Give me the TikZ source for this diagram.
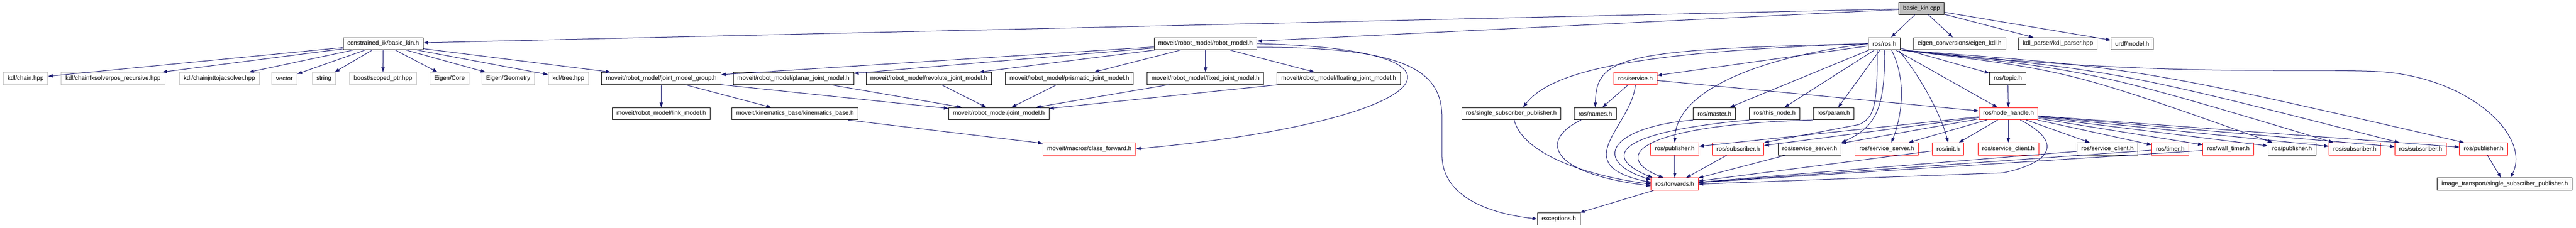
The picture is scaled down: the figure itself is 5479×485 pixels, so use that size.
\documentclass[tikz,border=0pt]{standalone}
\usepackage{fontspec}
\setmainfont{Liberation Sans}
\usetikzlibrary{arrows.meta}
\definecolor{edgeblue}{HTML}{191970}
\definecolor{extgray}{HTML}{BFBFBF}

\begin{document}
\begin{tikzpicture}[->,>={Stealth[inset=0pt,length=10pt,width=7pt]},x=1pt,y=-1pt,
    every edge/.style={draw=edgeblue,line width=1.1pt}]
  \tikzstyle{file}=[draw=black,fill=white,line width=1pt,minimum height=26pt,
                    inner xsep=9pt,inner ysep=0pt,font=\fontsize{13}{15}\selectfont]
  \tikzstyle{ext}=[file,draw=extgray]
  \tikzstyle{cut}=[file,draw=red]
  \tikzstyle{root}=[file,fill=extgray]
  \tikzstyle{dep}=[draw=edgeblue,line width=1.1pt]
  \useasboundingbox (0,0) rectangle (5479,485);

  % top
  \node [root] (cpp) at (4087,18) {basic\_kin.cpp};

  % row 1
  \node [file] (bkh)  at (815,93)  {constrained\_ik/basic\_kin.h};
  \node [file] (rm)   at (2564,93) {moveit/robot\_model/robot\_model.h};
  \node [file] (ros)  at (4008,93) {ros/ros.h};
  \node [file] (ekdl) at (4168,93) {eigen\_conversions/eigen\_kdl.h};
  \node [file] (kdlp) at (4377,93) {kdl\_parser/kdl\_parser.hpp};
  \node [file] (urdf) at (4535,93) {urdf/model.h};

  % row 2
  \node [ext]  (chain)    at (54.5,167)   {kdl/chain.hpp};
  \node [ext]  (fk)       at (240.5,167)  {kdl/chainfksolverpos\_recursive.hpp};
  \node [ext]  (jac)      at (466.5,167)  {kdl/chainjnttojacsolver.hpp};
  \node [ext]  (vec)      at (605,167)    {vector};
  \node [ext]  (str)      at (689,167)    {string};
  \node [ext]  (sptr)     at (814.5,167)  {boost/scoped\_ptr.hpp};
  \node [ext]  (ecore)    at (956,167)    {Eigen/Core};
  \node [ext]  (egeo)     at (1081,167)   {Eigen/Geometry};
  \node [ext]  (tree)     at (1209,167)   {kdl/tree.hpp};
  \node [file] (jmg)      at (1406.5,167) {moveit/robot\_model/joint\_model\_group.h};
  \node [file] (planar)   at (1687.5,167) {moveit/robot\_model/planar\_joint\_model.h};
  \node [file] (rev)      at (1975.5,167) {moveit/robot\_model/revolute\_joint\_model.h};
  \node [file] (pris)     at (2274.5,167) {moveit/robot\_model/prismatic\_joint\_model.h};
  \node [file] (fixed)    at (2564,167)   {moveit/robot\_model/fixed\_joint\_model.h};
  \node [file] (floating) at (2847.5,167) {moveit/robot\_model/floating\_joint\_model.h};
  \node [cut]  (srv)      at (3478.5,167) {ros/service.h};
  \node [file] (topic)    at (4270.5,167) {ros/topic.h};

  % row 3
  \node [file] (link)   at (1406.5,242) {moveit/robot\_model/link\_model.h};
  \node [file] (kb)     at (1691,242)   {moveit/kinematics\_base/kinematics\_base.h};
  \node [file] (jm)     at (2124.5,242) {moveit/robot\_model/joint\_model.h};
  \node [file] (ssp)    at (3214.5,242) {ros/single\_subscriber\_publisher.h};
  \node [file] (names)  at (3393,242)   {ros/names.h};
  \node [file] (master) at (3646.5,242) {ros/master.h};
  \node [file] (thisn)  at (3774.5,242) {ros/this\_node.h};
  \node [file] (param)  at (3900,242)   {ros/param.h};
  \node [cut]  (nh)     at (4272,242)   {ros/node\_handle.h};

  % row 4
  \node [cut]  (cf)     at (2317,317)   {moveit/macros/class\_forward.h};
  \node [cut]  (pubA)   at (3562,317)   {ros/publisher.h};
  \node [cut]  (subA)   at (3697,317)   {ros/subscriber.h};
  \node [file] (ssB)    at (3849,317)   {ros/service\_server.h};
  \node [cut]  (ssA)    at (4013,317)   {ros/service\_server.h};
  \node [cut]  (init)   at (4143.5,317) {ros/init.h};
  \node [cut]  (scA)    at (4271.5,317) {ros/service\_client.h};
  \node [file] (scB)    at (4482.5,317) {ros/service\_client.h};
  \node [cut]  (timer)  at (4616,317)   {ros/timer.h};
  \node [cut]  (wtimer) at (4739.5,317) {ros/wall\_timer.h};
  \node [file] (pubB)   at (4875,317)   {ros/publisher.h};
  \node [cut]  (subB)   at (5008.5,317) {ros/subscriber.h};
  \node [cut]  (subC)   at (5148.5,317) {ros/subscriber.h};
  \node [cut]  (pubC)   at (5282.5,317) {ros/publisher.h};

  % rows 5 and 6
  \node [cut]  (fwd)    at (3562,392)   {ros/forwards.h};
  \node [file] (itssp)  at (5327.5,392) {image\_transport/single\_subscriber\_publisher.h};
  \node [file] (exc)    at (3315.5,466) {exceptions.h};

  \path (cpp) edge (bkh)
              edge (rm)
              edge (ros)
              edge (ekdl)
              edge (kdlp)
              edge (urdf)
        (bkh) edge (chain)
              edge (fk)
              edge (jac)
              edge (vec)
              edge (str)
              edge (sptr)
              edge (ecore)
              edge (egeo)
              edge (tree)
              edge (jmg)
        (rm)  edge (jmg)
              edge (planar)
              edge (rev)
              edge (pris)
              edge (fixed)
              edge (floating)
        (jmg) edge (link)
              edge (kb)
              edge (jm)
        (kb)  edge (cf)
        (planar) edge (jm)
        (rev)    edge (jm)
        (pris)   edge (jm)
        (fixed)  edge (jm)
        (floating) edge (jm);

  \path (ros) edge (srv)
              edge (master)
              edge (thisn)
              edge (param)
              edge (topic)
              edge (nh)
        (srv) edge (names)
              edge (nh)
        (topic) edge (nh)
        (nh)  edge (pubA)
              edge (subA)
              edge (ssB)
              edge (ssA)
              edge (init)
              edge (scA)
              edge (scB)
              edge (timer)
              edge (wtimer)
              edge (pubB)
              edge (subB)
              edge (subC)
              edge (pubC)
        (pubA) edge (fwd)
        (subA) edge (fwd)
        (ssB)  edge (fwd)
        (init) edge (fwd)
        (scB)  edge (fwd)
        (timer) edge (fwd)
        (wtimer) edge (fwd)
        (pubC) edge (itssp)
        (fwd)  edge (exc);

  % curved ones
  \draw [dep] (rm.east) .. controls (3200,105) and (3050,260) .. (cf.east);
  \draw [dep] (rm.-4) .. controls (2990,100) and (3067,150) .. (3067,250)
              -- (3067,330) .. controls (3067,420) and (3170,455) .. (exc.west);
  \draw [dep] (ros.west) .. controls (3450,105) and (3395,120) .. (names.north);
  \draw [dep] (ros.west) .. controls (3480,110) and (3300,150) .. ([xshift=25pt]ssp.north);
  \draw [dep] (ros.west) .. controls (3750,120) and (3565,190) .. (pubA.north);
  \draw [dep] ([xshift=-15pt]ros.south) .. controls (3993,230) and (3985,250) .. (3955,265)
              -- (subA.north east);
  \draw [dep] (ros.south) .. controls (4010,230) and (3990,270) .. (ssB.north east);
  \draw [dep] ([xshift=15pt]ros.south) .. controls (4060,180) and (4040,260) .. ([xshift=10pt]ssA.north);
  \draw [dep] ([xshift=30pt]ros.south) .. controls (4090,170) and (4130,250) .. (init.north);
  \draw [dep] (ros.south east) .. controls (4400,150) .. ([xshift=10pt]pubB.north west);
  \draw [dep] (ros.south east) .. controls (4450,150) .. ([xshift=10pt]subB.north west);
  \draw [dep] (ros.south east) .. controls (4500,150) .. ([xshift=10pt]subC.north west);
  \draw [dep] (ros.south east) .. controls (4550,145) .. ([xshift=10pt]pubC.north west);
  \draw [dep] (ros.south east) .. controls (4600,165) and (4850,145) .. (5050,152)
              .. controls (5250,160) and (5385,290) .. ([xshift=12pt]itssp.north);
  \draw [dep] (srv.south) .. controls (3470,270) and (3330,350) .. (fwd.176);
  \draw [dep] ([xshift=6pt]ssp.south) .. controls (3240,330) and (3380,375) .. (fwd.180);
  \draw [dep] ([xshift=-30pt]names.south) .. controls (3270,300) and (3300,370) .. (fwd.184);
  \draw [dep] (master.south west) .. controls (3430,270) and (3380,340) .. (fwd.170);
  \draw [dep] (thisn.south west) .. controls (3450,280) and (3400,330) .. ([xshift=-47pt]fwd.north);
  \draw [dep] (param.south west) .. controls (3500,265) and (3420,330) .. ([xshift=-24pt]fwd.north);
  \draw [dep] ([xshift=25pt]nh.south) .. controls (4385,300) and (4370,345) .. (4260,368)
              -- (fwd.east);
\end{tikzpicture}
\end{document}
